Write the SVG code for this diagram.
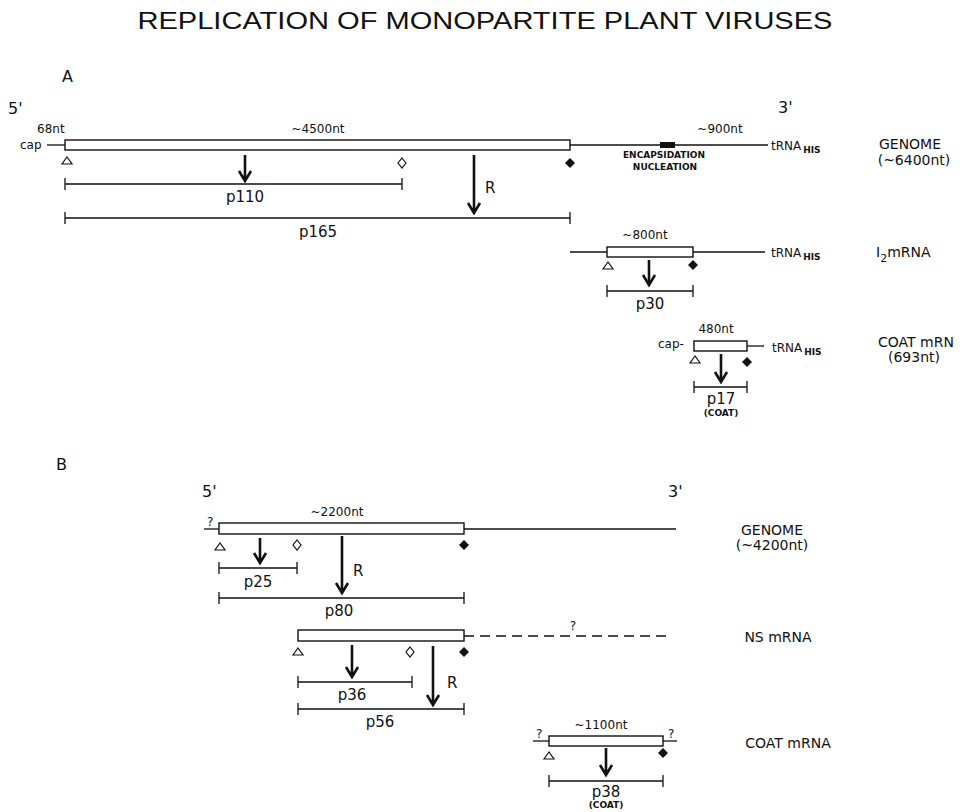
<svg xmlns="http://www.w3.org/2000/svg" width="974" height="812" viewBox="0 0 974 812">
<style>
text{font-family:"DejaVu Sans","Liberation Sans",sans-serif;fill:#111}
.t{font-family:"Liberation Sans","DejaVu Sans",sans-serif;font-size:23px;font-weight:normal}
.h{font-size:16px}
.lb{font-size:15px}
.nm{font-size:14px}
.sm{font-size:12px}
.xs{font-size:9px;font-weight:bold}
.c{text-anchor:middle}
.ln{stroke:#111;stroke-width:1.3;fill:none}
.box{stroke:#111;stroke-width:1.4;fill:#fff}
.ar{stroke:#111;stroke-width:2.6;fill:none;stroke-linejoin:miter}
.od{stroke:#111;stroke-width:1.2;fill:#fff}
.fd{fill:#111}
</style>
<text class="t c" x="485" y="29" textLength="695" lengthAdjust="spacingAndGlyphs">REPLICATION OF MONOPARTITE PLANT VIRUSES</text>

<!-- Panel A -->
<text class="h" x="62" y="82">A</text>
<text class="h" x="8" y="114">5'</text>
<text class="h" x="778" y="113">3'</text>

<g id="genomeA">
<text class="sm" x="37" y="133">68nt</text>
<text class="sm c" x="318" y="133">~4500nt</text>
<text class="sm" x="20" y="149">cap</text>
<line class="ln" x1="47" y1="145" x2="65" y2="145"/>
<rect class="box" x="65" y="140" width="505" height="10"/>
<line class="ln" x1="570" y1="145" x2="768" y2="145"/>
<rect x="660" y="142" width="15" height="6" fill="#111"/>
<text class="sm c" x="720" y="133">~900nt</text>
<text class="sm" x="771" y="150">tRNA<tspan class="xs" dx="2" dy="3">HIS</tspan></text>
<text class="xs c" x="664" y="158">ENCAPSIDATION</text>
<text class="xs c" x="665" y="170">NUCLEATION</text>
<text class="nm c" x="910" y="149">GENOME</text>
<text class="nm c" x="914" y="165">(~6400nt)</text>
<polygon class="od" points="67,157 62,164 72,164"/>
<polygon class="od" points="402,158 406,163 402,168 398,163"/>
<polygon class="fd" points="570,158 575,163 570,168 565,163"/>
</g>
<g id="p110">
<path class="ln" d="M65 184H402M65 178V190M402 178V190"/>
<text class="lb c" x="245" y="202">p110</text>
</g>
<g id="p165">
<path class="ln" d="M65 218H570M65 212V224M570 212V224"/>
<text class="lb c" x="318" y="237">p165</text>
<text class="lb" x="485" y="193">R</text>
</g>

<g id="i2mRNA">
<line class="ln" x1="570" y1="252" x2="765" y2="252"/>
<rect class="box" x="607" y="247" width="86" height="10"/>
<text class="sm c" x="645" y="239">~800nt</text>
<text class="sm" x="771" y="257">tRNA<tspan class="xs" dx="2" dy="3">HIS</tspan></text>
<polygon class="od" points="608,262 603,269 613,269"/>
<polygon class="fd" points="693,260 698,265 693,270 688,265"/>
<text class="nm" x="876" y="257">I<tspan font-size="11" dy="5">2</tspan><tspan dy="-5">mRNA</tspan></text>
</g>
<g id="p30">
<path class="ln" d="M607 291H693M607 285V297M693 285V297"/>
<text class="lb c" x="650" y="309">p30</text>
</g>

<g id="coatA">
<text class="sm c" x="716" y="333">480nt</text>
<text class="sm" x="658" y="348">cap-</text>
<rect class="box" x="694" y="341" width="53" height="10"/>
<line class="ln" x1="747" y1="346" x2="764" y2="346"/>
<text class="sm" x="772" y="352">tRNA<tspan class="xs" dx="2" dy="3">HIS</tspan></text>
<polygon class="od" points="695,356 690,363 700,363"/>
<polygon class="fd" points="747,357 752,362 747,367 742,362"/>
<text class="nm" x="878" y="347">COAT mRN</text>
<text class="nm c" x="914" y="362">(693nt)</text>
</g>
<g id="p17">
<path class="ln" d="M694 387H747M694 381V393M747 381V393"/>
<text class="lb c" x="721" y="404">p17</text>
<text class="xs c" x="721" y="416">(COAT)</text>
</g>

<!-- Panel B -->
<text class="h" x="56" y="470">B</text>
<text class="h" x="202" y="497">5'</text>
<text class="h" x="668" y="497">3'</text>

<g id="genomeB">
<text class="sm" x="207" y="526">?</text>
<line class="ln" x1="204" y1="529" x2="219" y2="529"/>
<rect class="box" x="219" y="523" width="245" height="11"/>
<line class="ln" x1="464" y1="529" x2="676" y2="529"/>
<text class="sm c" x="337" y="516">~2200nt</text>
<polygon class="od" points="220,543 215,550 225,550"/>
<polygon class="od" points="297,540 301,545 297,550 293,545"/>
<polygon class="fd" points="464,540 469,545 464,550 459,545"/>
<text class="nm c" x="772" y="535">GENOME</text>
<text class="nm c" x="772" y="550">(~4200nt)</text>
</g>
<g id="p25">
<path class="ln" d="M219 568H297M219 562V574M297 562V574"/>
<text class="lb c" x="258" y="587">p25</text>
</g>
<g id="p80">
<path class="ln" d="M219 598H464M219 592V604M464 592V604"/>
<text class="lb c" x="339" y="616">p80</text>
<text class="lb" x="353" y="576">R</text>
</g>

<g id="nsmRNA">
<rect class="box" x="298" y="630" width="166" height="11"/>
<line class="ln" x1="464" y1="636" x2="672" y2="636" stroke-dasharray="10,6"/>
<text class="sm c" x="573" y="630">?</text>
<polygon class="od" points="298,648 293,655 303,655"/>
<polygon class="od" points="410,647 414,652 410,657 406,652"/>
<polygon class="fd" points="464,647 469,652 464,657 459,652"/>
<text class="nm c" x="778" y="642">NS mRNA</text>
</g>
<g id="p36">
<path class="ln" d="M298 682H412M298 676V688M412 676V688"/>
<text class="lb c" x="352" y="700">p36</text>
</g>
<g id="p56">
<path class="ln" d="M298 709H464M298 703V715M464 703V715"/>
<text class="lb c" x="380" y="727">p56</text>
<text class="lb" x="447" y="688">R</text>
</g>

<g id="coatB">
<text class="sm c" x="601" y="729">~1100nt</text>
<text class="sm" x="536" y="738">?</text>
<line class="ln" x1="533" y1="741" x2="549" y2="741"/>
<rect class="box" x="549" y="736" width="114" height="10"/>
<line class="ln" x1="663" y1="741" x2="677" y2="741"/>
<text class="sm" x="668" y="738">?</text>
<polygon class="od" points="549,752 544,759 554,759"/>
<polygon class="fd" points="663,748 668,753 663,758 658,753"/>
<text class="nm c" x="788" y="748">COAT mRNA</text>
</g>
<g id="p38">
<path class="ln" d="M549 781H663M549 775V787M663 775V787"/>
<text class="lb c" x="606" y="797">p38</text>
<text class="xs c" x="606" y="808">(COAT)</text>
</g>

<g id="connectors">
<path class="ar" d="M245 155V180M239 171L245 181L251 171"/>
<path class="ar" d="M474 155V212M468 203L474 213L480 203"/>
<path class="ar" d="M649 260V284M643 275L649 285L655 275"/>
<path class="ar" d="M721 354V381M715 372L721 382L727 372"/>
<path class="ar" d="M260 538V562M254 553L260 563L266 553"/>
<path class="ar" d="M342 536V592M336 583L342 593L348 583"/>
<path class="ar" d="M352 645V676M346 667L352 677L358 667"/>
<path class="ar" d="M433 646V704M427 695L433 705L439 695"/>
<path class="ar" d="M606 748V774M600 765L606 775L612 765"/>
</g>
</svg>
